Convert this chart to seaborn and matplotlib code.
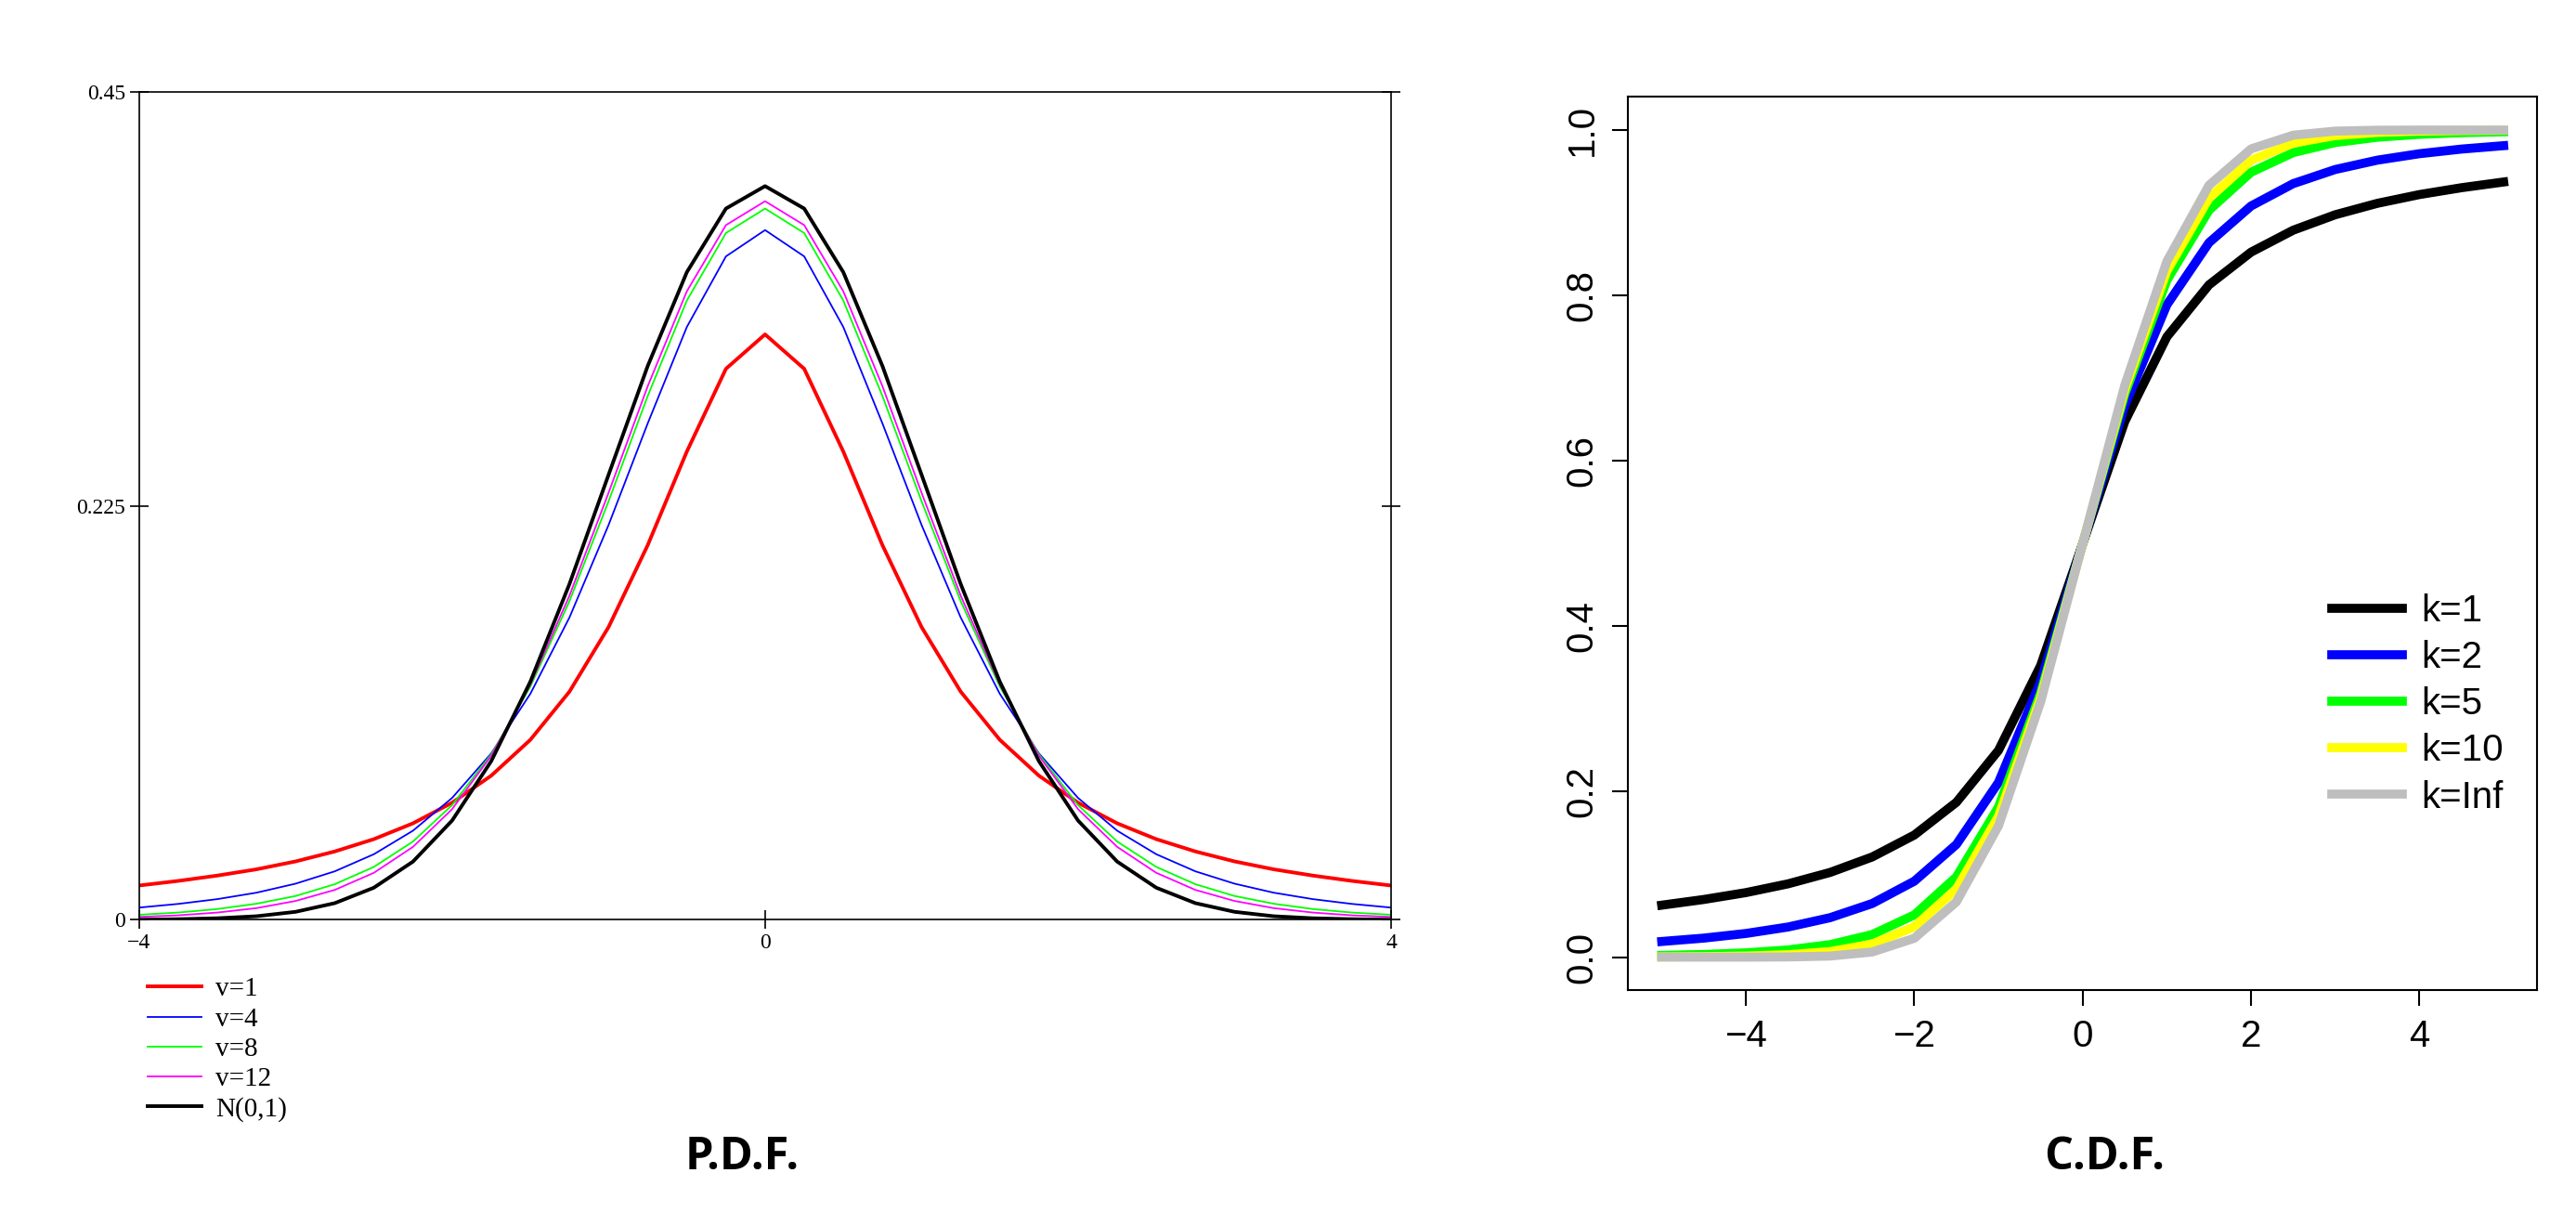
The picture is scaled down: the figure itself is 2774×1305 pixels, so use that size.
import numpy as np
import pandas as pd
import seaborn as sns
import matplotlib.pyplot as plt

# ---- PDF data (x from -4 to 4 step 0.25) ----
pdf_x = [-4, -3.75, -3.5, -3.25, -3, -2.75, -2.5, -2.25, -2, -1.75, -1.5, -1.25, -1, -0.75, -0.5, -0.25,
         0, 0.25, 0.5, 0.75, 1, 1.25, 1.5, 1.75, 2, 2.25, 2.5, 2.75, 3, 3.25, 3.5, 3.75, 4]
pdf_v1 = [0.0187, 0.0212, 0.0241, 0.0275, 0.0318, 0.0372, 0.0439, 0.0525, 0.0637, 0.0784, 0.0979, 0.1241,
          0.1592, 0.2037, 0.2546, 0.2996, 0.3183, 0.2996, 0.2546, 0.2037, 0.1592, 0.1241, 0.0979, 0.0784,
          0.0637, 0.0525, 0.0439, 0.0372, 0.0318, 0.0275, 0.0241, 0.0212, 0.0187]
pdf_v4 = [0.0067, 0.0087, 0.0113, 0.0148, 0.0197, 0.0264, 0.0357, 0.0485, 0.0663, 0.0905, 0.1229, 0.1644,
          0.2147, 0.2699, 0.3223, 0.3607, 0.3750, 0.3607, 0.3223, 0.2699, 0.2147, 0.1644, 0.1229, 0.0905,
          0.0663, 0.0485, 0.0357, 0.0264, 0.0197, 0.0148, 0.0113, 0.0087, 0.0067]
pdf_v8 = [0.0028, 0.0040, 0.0059, 0.0088, 0.0130, 0.0194, 0.0288, 0.0426, 0.0624, 0.0900, 0.1268, 0.1733,
          0.2276, 0.2848, 0.3367, 0.3734, 0.3867, 0.3734, 0.3367, 0.2848, 0.2276, 0.1733, 0.1268, 0.0900,
          0.0624, 0.0426, 0.0288, 0.0194, 0.0130, 0.0088, 0.0059, 0.0040, 0.0028]
pdf_v12 = [0.0016, 0.0025, 0.0040, 0.0064, 0.0103, 0.0163, 0.0256, 0.0397, 0.0602, 0.0892, 0.1279, 0.1763,
           0.2322, 0.2901, 0.3417, 0.3777, 0.3907, 0.3777, 0.3417, 0.2901, 0.2322, 0.1763, 0.1279, 0.0892,
           0.0602, 0.0397, 0.0256, 0.0163, 0.0103, 0.0064, 0.0040, 0.0025, 0.0016]
pdf_norm = [0.0001, 0.0004, 0.0009, 0.0020, 0.0044, 0.0091, 0.0175, 0.0317, 0.0540, 0.0863, 0.1295, 0.1826,
            0.2420, 0.3011, 0.3521, 0.3867, 0.3989, 0.3867, 0.3521, 0.3011, 0.2420, 0.1826, 0.1295, 0.0863,
            0.0540, 0.0317, 0.0175, 0.0091, 0.0044, 0.0020, 0.0009, 0.0004, 0.0001]
pdf_labels = ["v=1", "v=4", "v=8", "v=12", "N(0,1)"]
pdf_colors = ["#ff0000", "#0000ff", "#00ff00", "#ff00ff", "#000000"]
pdf_widths = [2.8, 1.3, 1.3, 1.3, 2.8]

# ---- CDF data (x from -5 to 5 step 0.5) ----
cdf_x = [-5, -4.5, -4, -3.5, -3, -2.5, -2, -1.5, -1, -0.5, 0, 0.5, 1, 1.5, 2, 2.5, 3, 3.5, 4, 4.5, 5]
cdf_k1 = [0.0628, 0.0697, 0.0780, 0.0886, 0.1024, 0.1211, 0.1476, 0.1872, 0.2500, 0.3524, 0.5,
          0.6476, 0.7500, 0.8128, 0.8524, 0.8789, 0.8976, 0.9114, 0.9220, 0.9303, 0.9372]
cdf_k2 = [0.0189, 0.0230, 0.0286, 0.0364, 0.0477, 0.0648, 0.0918, 0.1362, 0.2113, 0.3333, 0.5,
          0.6667, 0.7887, 0.8638, 0.9082, 0.9352, 0.9523, 0.9636, 0.9714, 0.9770, 0.9811]
cdf_k5 = [0.0021, 0.0032, 0.0052, 0.0087, 0.0151, 0.0273, 0.0510, 0.0970, 0.1816, 0.3191, 0.5,
          0.6809, 0.8184, 0.9030, 0.9490, 0.9727, 0.9849, 0.9913, 0.9948, 0.9968, 0.9979]
cdf_k10 = [0.0003, 0.0006, 0.0013, 0.0029, 0.0067, 0.0158, 0.0367, 0.0823, 0.1704, 0.3140, 0.5,
           0.6860, 0.8296, 0.9177, 0.9633, 0.9842, 0.9933, 0.9971, 0.9987, 0.9994, 0.9997]
cdf_kinf = [0.0000, 0.0000, 0.0000, 0.0002, 0.0013, 0.0062, 0.0228, 0.0668, 0.1587, 0.3085, 0.5,
            0.6915, 0.8413, 0.9332, 0.9772, 0.9938, 0.9987, 0.9998, 1.0000, 1.0000, 1.0000]
cdf_labels = ["k=1", "k=2", "k=5", "k=10", "k=Inf"]
cdf_colors = ["#000000", "#0000ff", "#00ff00", "#ffff00", "#bebebe"]

pdf_df = pd.concat([pd.DataFrame({"x": pdf_x, "y": v, "s": l})
                    for v, l in zip([pdf_v1, pdf_v4, pdf_v8, pdf_v12, pdf_norm], pdf_labels)])
cdf_df = pd.concat([pd.DataFrame({"x": cdf_x, "y": v, "s": l})
                    for v, l in zip([cdf_k1, cdf_k2, cdf_k5, cdf_k10, cdf_kinf], cdf_labels)])

fig = plt.figure(figsize=(27.74, 13.05), dpi=100)

# ---- Left: PDF ----
ax1 = fig.add_axes([0.054, 0.241, 0.486, 0.683])
for lab, col, lw in zip(pdf_labels, pdf_colors, pdf_widths):
    sns.lineplot(data=pdf_df[pdf_df.s == lab], x="x", y="y", color=col, lw=lw, ax=ax1, label=lab, legend=False)
ax1.set_xlim(-4, 4)
ax1.set_ylim(0, 0.45)
ax1.set_xticks([-4, 0, 4])
ax1.set_xticklabels(["\u22124", "0", "4"])
ax1.set_yticks([0, 0.225, 0.45])
ax1.set_yticklabels(["0", "0.225", "0.45"])
ax1.tick_params(direction="inout", length=14, labelsize=17, right=True, top=False, width=1.2)
for t in ax1.get_xticklabels() + ax1.get_yticklabels():
    t.set_fontfamily("Liberation Serif")
for s in ax1.spines.values():
    s.set_linewidth(1.2)
ax1.set_xlabel("")
ax1.set_ylabel("")
h, l = ax1.get_legend_handles_labels()
fig.legend(h, l, loc="upper left", bbox_to_anchor=(0.052, 0.205), frameon=False,
           prop={"family": "Liberation Serif", "size": 21}, handlelength=2.0,
           labelspacing=0.2, borderpad=0, handletextpad=0.5)
fig.text(0.288, 0.035, "P.D.F.", ha="center", fontsize=35, fontweight="bold", fontfamily="Open Sans")

# ---- Right: CDF ----
ax2 = fig.add_axes([0.632, 0.183, 0.353, 0.737])
for lab, col in zip(cdf_labels, cdf_colors):
    sns.lineplot(data=cdf_df[cdf_df.s == lab], x="x", y="y", color=col, lw=7, ax=ax2, label=lab, legend=False)
ax2.set_xlim(-5.4, 5.4)
ax2.set_ylim(-0.04, 1.04)
ax2.set_xticks([-4, -2, 0, 2, 4])
ax2.set_xticklabels(["\u22124", "\u22122", "0", "2", "4"])
ax2.set_yticks([0, 0.2, 0.4, 0.6, 0.8, 1.0])
ax2.set_yticklabels(["0.0", "0.2", "0.4", "0.6", "0.8", "1.0"], rotation=90, va="center")
ax2.tick_params(direction="out", length=12, labelsize=29, width=1.5, pad=10)
for t in ax2.get_xticklabels() + ax2.get_yticklabels():
    t.set_fontfamily("Liberation Sans")
for s in ax2.spines.values():
    s.set_linewidth(1.5)
ax2.set_xlabel("")
ax2.set_ylabel("")
ax2.legend(loc="center right", bbox_to_anchor=(1.0, 0.32), frameon=False,
           prop={"family": "Liberation Sans", "size": 29}, handlelength=1.9,
           labelspacing=0.3, handletextpad=0.5)
fig.text(0.817, 0.035, "C.D.F.", ha="center", fontsize=35, fontweight="bold", fontfamily="Open Sans")

fig.savefig("out.png", dpi=100)
